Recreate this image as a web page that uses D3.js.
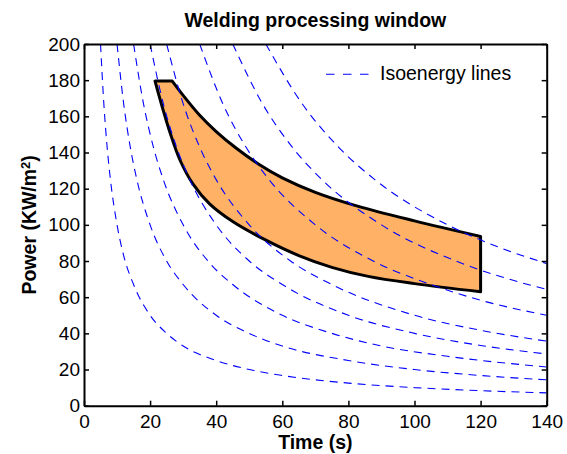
<!DOCTYPE html>
<html>
<head>
<meta charset="utf-8">
<script src="https://cdn.jsdelivr.net/npm/d3@7"></script>
<style>
    body { margin: 0; background: #fff; }
    svg { display: block; font-family: "Liberation Sans", Arial, Helvetica, sans-serif; }
</style>
</head>
<body>
<div id="chart"></div>
<script>
// tick values
const xTicks = [0, 20, 40, 60, 80, 100, 120, 140];
const yTicks = [0, 20, 40, 60, 80, 100, 120, 140, 160, 180, 200];

// isoenergy lines, [time, power]
const iso1 = [[5, 200], [6, 167], [7, 143], [8, 125], [10, 100], [12, 83], [15, 67], [20, 50], [25, 40], [30, 33], [40, 25], [50, 20], [60, 16.7], [80, 12.5], [100, 10], [120, 8.3], [140, 7.1]];
const iso2 = [[10, 200], [12, 167], [14, 143], [16, 125], [20, 100], [25, 80], [30, 67], [40, 50], [50, 40], [60, 33], [80, 25], [100, 20], [120, 16.7], [140, 14.3]];
const iso3 = [[15, 200], [18, 167], [21, 143], [24, 125], [30, 100], [37.5, 80], [45, 67], [60, 50], [75, 40], [90, 33], [110, 27.3], [140, 21.4]];
const iso4 = [[20, 200], [24, 167], [28, 143], [32, 125], [40, 100], [50, 80], [60, 67], [80, 50], [100, 40], [120, 33.3], [140, 28.6]];
const iso5 = [[25, 200], [30, 167], [35, 143], [40, 125], [50, 100], [62.5, 80], [75, 67], [100, 50], [120, 41.7], [140, 35.7]];
const iso6 = [[35, 200], [42, 167], [49, 143], [56, 125], [70, 100], [87.5, 80], [105, 67], [120, 58.3], [140, 50]];
const iso7 = [[45, 200], [54, 167], [63, 143], [72, 125], [90, 100], [112.5, 80], [128, 70.3], [140, 64.3]];
const iso8 = [[55, 200], [66, 167], [77, 143], [88, 125], [110, 100], [125, 88], [140, 78.6]];
const isoLines = [iso1, iso2, iso3, iso4, iso5, iso6, iso7, iso8];

// processing window outline
const windowTop = [[21.5, 179.5], [26.7, 179.5]];
const windowUpper = [[26.7, 179.5], [30, 171.6], [35, 160.6], [40, 151.6], [46, 142.5], [53, 133.4], [60, 126], [70, 118], [82.5, 110.5], [100, 102.2], [120, 93.6]];
const windowLower = [[120, 63], [100, 67.5], [86, 71.5], [75, 76.5], [65, 83], [54, 92.5], [45, 101.8], [38, 111.6], [33, 122.5], [29, 136], [26, 151.2], [24, 163.2], [23, 169.5], [21.5, 179.5]];

const width = 567, height = 454;
const margin = { top: 44, right: 20.3, bottom: 48.3, left: 84 };
const innerW = width - margin.left - margin.right;
const innerH = height - margin.top - margin.bottom;

const svg = d3.select("#chart").append("svg")
    .attr("width", width)
    .attr("height", height);

const g = svg.append("g")
    .attr("transform", `translate(${margin.left},${margin.top})`);

const x = d3.scaleLinear().domain([0, 140]).range([0, innerW]);
const y = d3.scaleLinear().domain([0, 200]).range([innerH, 0]);

g.append("clipPath").attr("id", "plot-clip")
    .append("rect")
    .attr("width", innerW)
    .attr("height", innerH);

// window polygon
const smooth = d3.line().x(d => x(d[0])).y(d => y(d[1])).curve(d3.curveCatmullRom.alpha(0.5));
const upperPath = smooth(windowUpper).replace(/^M/, "L");
const lowerPath = smooth(windowLower).replace(/^M/, "L");
const windowPath = `M${x(windowTop[0][0])},${y(windowTop[0][1])}` + upperPath + lowerPath + "Z";

g.append("path")
    .attr("d", windowPath)
    .attr("fill", "rgb(255,178,102)")
    .attr("stroke", "#000")
    .attr("stroke-width", 3)
    .attr("stroke-linejoin", "round");

// isoenergy lines
const isoLine = d3.line().x(d => x(d[0])).y(d => y(d[1])).curve(d3.curveMonotoneX);
g.append("g")
    .attr("clip-path", "url(#plot-clip)")
    .selectAll("path")
    .data(isoLines)
    .join("path")
    .attr("d", isoLine)
    .attr("fill", "none")
    .attr("stroke", "#0000ff")
    .attr("stroke-width", 1.1)
    .attr("stroke-dasharray", "8,6");

// axes with inward ticks on all four sides
function styleAxis(sel) {
    sel.select(".domain").attr("stroke", "#000").attr("stroke-width", 2);
    sel.selectAll(".tick line").attr("stroke", "#000").attr("stroke-width", 1.5);
    sel.selectAll(".tick text").attr("fill", "#000").style("font-size", "19px").style("font-family", "inherit");
}

g.append("g")
    .attr("transform", `translate(0,${innerH})`)
    .call(d3.axisBottom(x).tickValues(xTicks).tickSizeInner(-5).tickSizeOuter(0).tickPadding(9))
    .call(styleAxis);

g.append("g")
    .call(d3.axisLeft(y).tickValues(yTicks).tickSizeInner(-5).tickSizeOuter(0).tickPadding(4))
    .call(styleAxis);

g.append("g")
    .call(d3.axisTop(x).tickValues(xTicks).tickSizeInner(-5).tickSizeOuter(0).tickFormat(""))
    .call(styleAxis);

g.append("g")
    .attr("transform", `translate(${innerW},0)`)
    .call(d3.axisRight(y).tickValues(yTicks).tickSizeInner(-5).tickSizeOuter(0).tickFormat(""))
    .call(styleAxis);

// legend
svg.append("line")
    .attr("x1", 326).attr("x2", 369)
    .attr("y1", 74.3).attr("y2", 74.3)
    .attr("stroke", "#0000ff")
    .attr("stroke-width", 1.1)
    .attr("stroke-dasharray", "8.5,8.5");

svg.append("text")
    .attr("x", 380)
    .attr("y", 80)
    .style("font-size", "19.5px")
    .text("Isoenergy lines");

// title and axis labels
svg.append("text")
    .attr("x", margin.left + innerW / 2)
    .attr("y", 26.7)
    .attr("text-anchor", "middle")
    .style("font-size", "19.5px")
    .style("font-weight", "bold")
    .text("Welding processing window");

svg.append("text")
    .attr("x", margin.left + innerW / 2)
    .attr("y", 449)
    .attr("text-anchor", "middle")
    .style("font-size", "19.5px")
    .style("font-weight", "bold")
    .text("Time (s)");

const yLabel = svg.append("text")
    .attr("transform", `translate(36,${margin.top + innerH / 2}) rotate(-90)`)
    .attr("text-anchor", "middle")
    .style("font-size", "19.5px")
    .style("font-weight", "bold");
yLabel.append("tspan").text("Power (KW/m");
yLabel.append("tspan").attr("dy", "-0.45em").style("font-size", "13px").text("2");
yLabel.append("tspan").attr("dy", "0.3em").text(")");
</script>
</body>
</html>
